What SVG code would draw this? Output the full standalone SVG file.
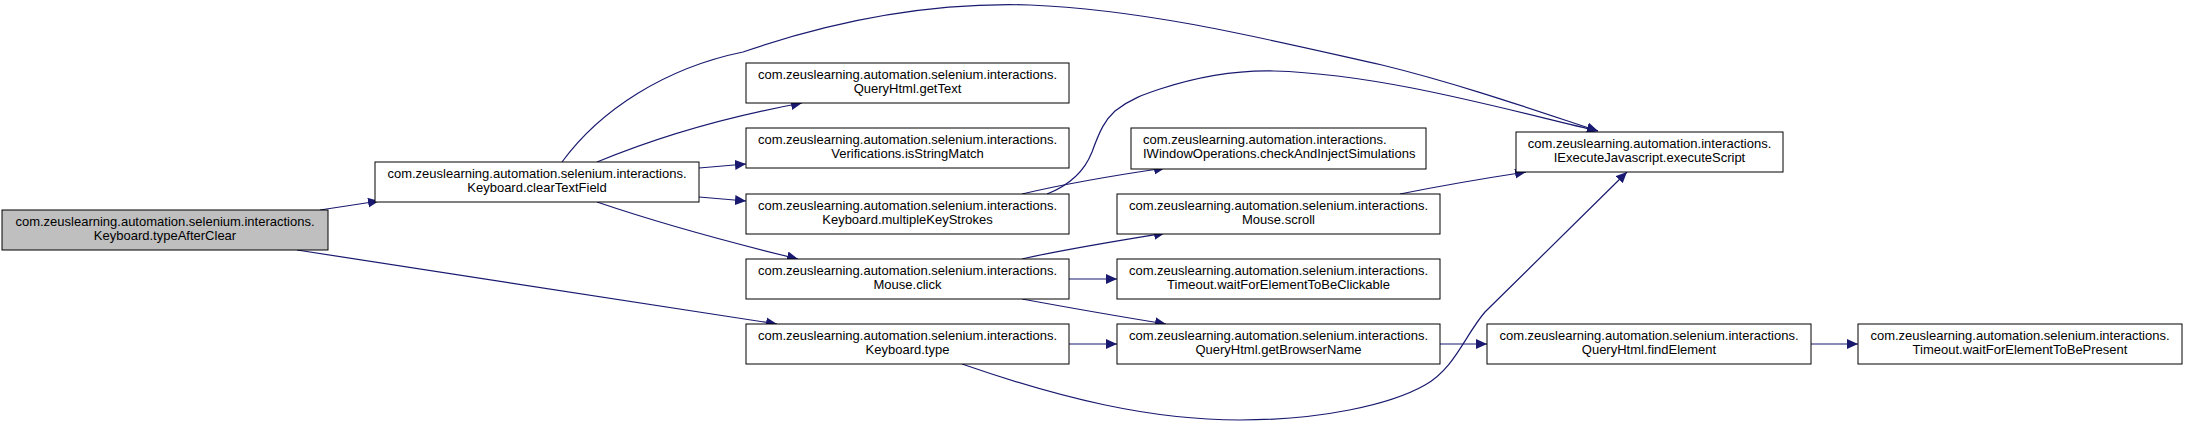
<svg xmlns="http://www.w3.org/2000/svg" width="2187" height="424" viewBox="0 0 2187 424">
<defs>
<marker id="arr" markerUnits="userSpaceOnUse" markerWidth="13" markerHeight="11" refX="11" refY="5" orient="auto">
<path d="M0,0 L11,5 L0,10 z" fill="#191970"/>
</marker>
<style>
.n rect{fill:#fff;stroke:#000;stroke-width:1}
.root rect{fill:#bfbfbf}
.n text{font-family:"Liberation Sans",Arial,sans-serif;font-size:13px;fill:#000;text-anchor:middle}
.n text.l{text-anchor:start}
#edges path{fill:none;stroke:#191970;stroke-width:1.2;marker-end:url(#arr)}
</style>
</defs>
<rect width="2187" height="424" fill="#fff"/>
<g id="edges">
<path d="M320,210 L379,201"/>
<path d="M297,250 L777,324"/>
<path d="M562,162 C600,110 665,68 743,52 C830,22 930,2 1030,5 C1150,10 1270,40 1382,65 C1460,84 1540,112 1598,131"/>
<path d="M597,162 C650,140 720,118 802,103"/>
<path d="M699,168 L746,164"/>
<path d="M699,197 L746,201"/>
<path d="M597,202 C650,220 720,240 798,259"/>
<path d="M1047,194 C1070,185 1085,170 1092,152 C1100,130 1105,120 1115,111 C1130,99 1145,94 1160,89 C1200,76 1235,70 1274,71 C1380,74 1500,108 1598,131"/>
<path d="M1022,194 C1060,185 1110,176 1165,168"/>
<path d="M1022,259 C1060,250 1110,242 1165,233"/>
<path d="M1069,279 L1117,279"/>
<path d="M1022,299 C1060,306 1110,315 1166,324"/>
<path d="M1069,344 L1117,344"/>
<path d="M962,364 C1060,398 1150,420 1240,420 C1320,420 1390,405 1425,385 C1455,368 1465,335 1485,312 L1627,172"/>
<path d="M1400,194 C1440,186 1480,179 1526,172"/>
<path d="M1440,344 L1487,344"/>
<path d="M1811,344 L1858,344"/>
</g>
<g id="typeAfterClear" class="n root"><rect x="2" y="210" width="326" height="40"/><text x="165" y="226">com.zeuslearning.automation.selenium.interactions.</text><text x="165" y="240">Keyboard.typeAfterClear</text></g>
<g id="clearTextField" class="n"><rect x="375" y="162" width="324" height="40"/><text x="537" y="178">com.zeuslearning.automation.selenium.interactions.</text><text x="537" y="192">Keyboard.clearTextField</text></g>
<g id="getText" class="n"><rect x="746" y="63" width="323" height="40"/><text x="907.5" y="79">com.zeuslearning.automation.selenium.interactions.</text><text x="907.5" y="93">QueryHtml.getText</text></g>
<g id="isStringMatch" class="n"><rect x="746" y="128" width="323" height="40"/><text x="907.5" y="144">com.zeuslearning.automation.selenium.interactions.</text><text x="907.5" y="158">Verifications.isStringMatch</text></g>
<g id="multipleKeyStrokes" class="n"><rect x="746" y="194" width="323" height="40"/><text x="907.5" y="210">com.zeuslearning.automation.selenium.interactions.</text><text x="907.5" y="224">Keyboard.multipleKeyStrokes</text></g>
<g id="mouseClick" class="n"><rect x="746" y="259" width="323" height="40"/><text x="907.5" y="275">com.zeuslearning.automation.selenium.interactions.</text><text x="907.5" y="289">Mouse.click</text></g>
<g id="keyboardType" class="n"><rect x="746" y="324" width="323" height="40"/><text x="907.5" y="340">com.zeuslearning.automation.selenium.interactions.</text><text x="907.5" y="354">Keyboard.type</text></g>
<g id="checkAndInjectSimulations" class="n"><rect x="1131" y="128" width="295" height="41"/><text class="l" x="1143" y="144">com.zeuslearning.automation.interactions.</text><text class="l" x="1143" y="158">IWindowOperations.checkAndInjectSimulations</text></g>
<g id="mouseScroll" class="n"><rect x="1117" y="194" width="323" height="40"/><text x="1278.5" y="210">com.zeuslearning.automation.selenium.interactions.</text><text x="1278.5" y="224">Mouse.scroll</text></g>
<g id="waitForElementToBeClickable" class="n"><rect x="1117" y="259" width="323" height="40"/><text x="1278.5" y="275">com.zeuslearning.automation.selenium.interactions.</text><text x="1278.5" y="289">Timeout.waitForElementToBeClickable</text></g>
<g id="getBrowserName" class="n"><rect x="1117" y="324" width="323" height="40"/><text x="1278.5" y="340">com.zeuslearning.automation.selenium.interactions.</text><text x="1278.5" y="354">QueryHtml.getBrowserName</text></g>
<g id="executeScript" class="n"><rect x="1516" y="132" width="267" height="40"/><text x="1649.5" y="148">com.zeuslearning.automation.interactions.</text><text x="1649.5" y="162">IExecuteJavascript.executeScript</text></g>
<g id="findElement" class="n"><rect x="1487" y="324" width="324" height="40"/><text x="1649" y="340">com.zeuslearning.automation.selenium.interactions.</text><text x="1649" y="354">QueryHtml.findElement</text></g>
<g id="waitForElementToBePresent" class="n"><rect x="1858" y="324" width="324" height="40"/><text x="2020" y="340">com.zeuslearning.automation.selenium.interactions.</text><text x="2020" y="354">Timeout.waitForElementToBePresent</text></g>
</svg>
